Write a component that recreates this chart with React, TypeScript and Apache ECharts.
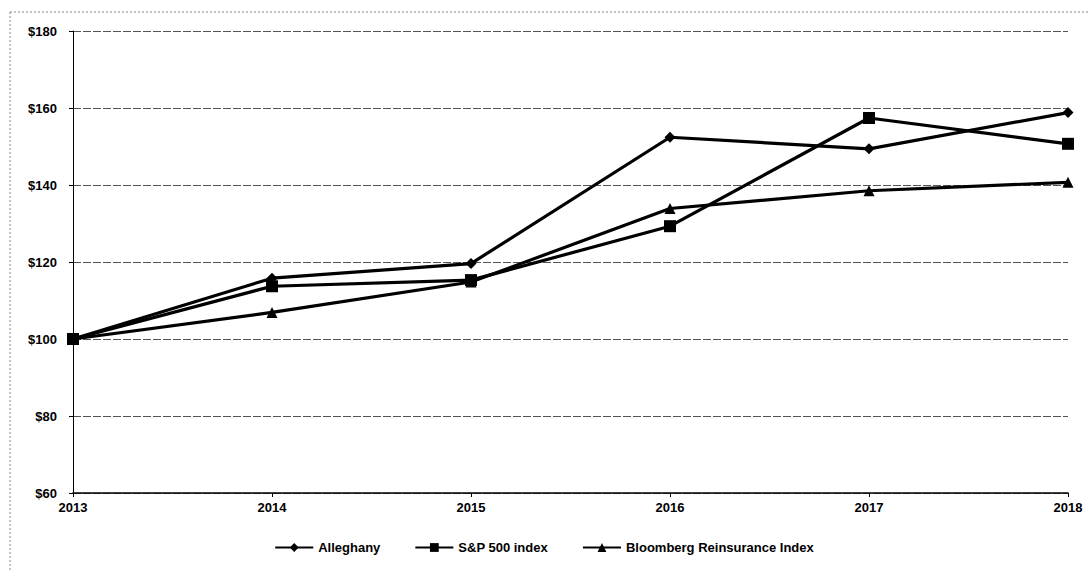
import React, { useEffect, useRef } from "react";
import * as echarts from "echarts";

const years = ["2013", "2014", "2015", "2016", "2017", "2018"];
const alleghany = [100, 115.8, 119.6, 152.4, 149.4, 158.8];
const sp500 = [100, 113.7, 115.3, 129.3, 157.4, 150.7];
const bloomberg = [100, 106.9, 114.8, 133.9, 138.5, 140.7];
const seriesNames = ["Alleghany", "S&P 500 index", "Bloomberg Reinsurance Index"];

export default function App() {
  const ref = useRef<HTMLDivElement>(null);
  useEffect(() => {
    if (!ref.current) return;
    const chart = echarts.init(ref.current, null, { renderer: "svg" });
    const font = "'Liberation Sans', Arial, sans-serif";
    const mk = (name: string, data: number[], symbol: string, size: number) => ({
      name,
      type: "line",
      data,
      symbol,
      symbolSize: size,
      lineStyle: { color: "#000", width: 3.2 },
      itemStyle: { color: "#000" },
      z: 3,
    });
    chart.setOption({
      animation: false,
      backgroundColor: "#fff",
      textStyle: { fontFamily: font },
      grid: { left: 73, right: 20, top: 31, bottom: 78 },
      graphic: [
        {
          type: "rect",
          shape: { x: 10, y: 12, width: 1085, height: 570 },
          style: { fill: "none", stroke: "#888", lineWidth: 1, lineDash: [2, 2] },
          silent: true,
        },
      ],
      xAxis: {
        type: "category",
        data: years,
        boundaryGap: false,
        axisLine: { lineStyle: { color: "#000", width: 1.5 } },
        axisTick: { show: true, length: 4, lineStyle: { color: "#000" } },
        axisLabel: { color: "#000", fontSize: 13, fontWeight: "bold", margin: 8, fontFamily: font },
        splitLine: { show: false },
      },
      yAxis: {
        type: "value",
        min: 60,
        max: 180,
        interval: 20,
        axisLine: { show: true, lineStyle: { color: "#000", width: 1 } },
        axisTick: { show: true, length: 4, lineStyle: { color: "#000" } },
        axisLabel: {
          color: "#000",
          fontSize: 13,
          fontWeight: "bold",
          margin: 16,
          fontFamily: font,
          formatter: (v: number) => "$" + v,
        },
        splitLine: { show: true, lineStyle: { color: "#555", width: 1, type: [8, 2] } },
      },
      legend: {
        bottom: 12,
        left: "center",
        itemGap: 34,
        itemWidth: 38,
        itemHeight: 11,
        textStyle: { color: "#000", fontSize: 13, fontWeight: "bold", fontFamily: font },
        data: seriesNames,
      },
      series: [
        mk(seriesNames[0], alleghany, "diamond", 11),
        mk(seriesNames[1], sp500, "rect", 12),
        mk(seriesNames[2], bloomberg, "triangle", 11),
      ],
    });
    return () => chart.dispose();
  }, []);
  return (
    <div
      ref={ref}
      style={{ position: "fixed", left: 0, top: 0, width: 1088, height: 571 }}
    />
  );
}
